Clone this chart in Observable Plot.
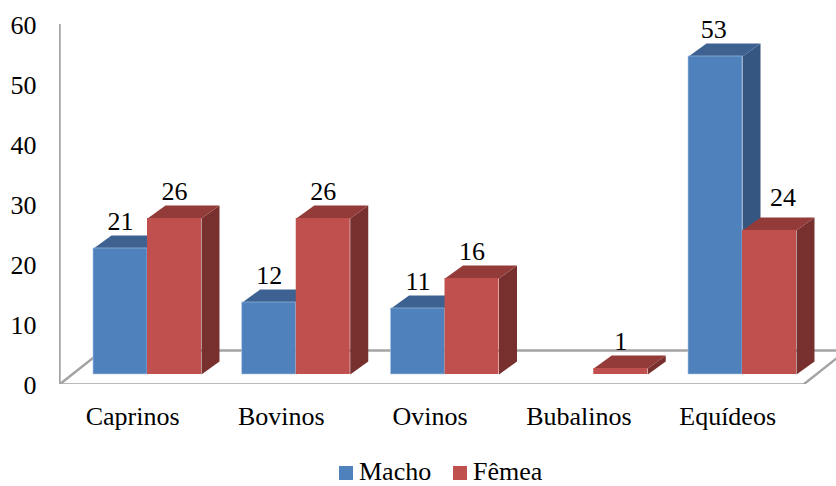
<!DOCTYPE html>
<html lang="pt">
<head>
<meta charset="utf-8">
<script src="https://cdn.jsdelivr.net/npm/d3@7"></script>
<script src="https://cdn.jsdelivr.net/npm/@observablehq/plot@0.6"></script>
<style>
  html, body { margin: 0; padding: 0; background: #fff; overflow: hidden; }
  #legend {
    position: relative; height: 31px; width: 836px;
    font: 26px "Liberation Serif", serif; color: #000;
  }
  #legend span.key { position: absolute; width: 14px; height: 14px; top: 11px; }
  #legend span.name { position: absolute; top: 7px; height: 20px; line-height: 20px; display: block; }
</style>
</head>
<body>
<div id="chart"></div>
<div id="legend"></div>
<script>
// Animal counts by category and sex
const categories = ["Caprinos", "Bovinos", "Ovinos", "Bubalinos", "Equídeos"];
const macho = [21, 12, 11, null, 53];
const femea = [26, 26, 16, 1, 24];
// Label nudges: the 24 moves up and right, clear of the taller neighbouring bar
const machoLabelLift = [0, 0, 0, 0, 0];
const femeaLabelLift = [0, 0, 0, 0, 1];
const machoLabelShift = [0, 0, 0, 0, -0.012];
const femeaLabelShift = [0, 0, 0, 0, 0.09];
const yTicks = [0, 10, 20, 30, 40, 50, 60];

const palette = {
  macho: {front: "#4f81bd", top: "#3d6291", side: "#345680", edge: "#a9c3e2"},
  femea: {front: "#c0504d", top: "#933b39", side: "#78302e", edge: "none"}
};

// Oblique projection, in scale units: one slot on x, one count on y
const barWidth = 0.363;      // width of a single bar
const depthX = 0.121;        // sideways shift of a bar's back face
const depthY = 2.17;         // upward shift of a bar's back face
const barBase = 1.67;        // bars stand this far above the floor's front edge
const floorBack = 5.67;      // height of the floor's back edge
const floorLeft = -0.5916;   // the wall, on x
const floorRight = 4.41;     // front right corner of the floor
const floorShiftX = 0.289;   // sideways run of the floor's depth
const labelOffset = -0.1;    // category labels sit at the centre of each floor slot

// Side and top faces of a series' bars, as polygons
function faces(values, series) {
  const out = [];
  values.forEach((v, i) => {
    if (v == null) return;
    const x1 = series === "macho" ? i - barWidth : i;
    const x2 = x1 + barWidth;
    const y1 = barBase, y2 = barBase + v;
    const c = palette[series];
    [[x2, y1], [x2 + depthX, y1 + depthY], [x2 + depthX, y2 + depthY], [x2, y2]]
      .forEach(([x, y]) => out.push({id: `${series}-${i}-side`, x, y, fill: c.side}));
    [[x1, y2], [x2, y2], [x2 + depthX, y2 + depthY], [x1 + depthX, y2 + depthY]]
      .forEach(([x, y]) => out.push({id: `${series}-${i}-top`, x, y, fill: c.top}));
  });
  return out;
}

// Front faces of a series' bars
function fronts(values, series) {
  return values.flatMap((v, i) => {
    if (v == null) return [];
    const x1 = series === "macho" ? i - barWidth : i;
    return [{i, x1, x2: x1 + barWidth, y1: barBase, y2: barBase + v, value: v}];
  });
}

// Outline of the chart's wall and floor
const frameLines = [
  {id: "wall", x: floorLeft, y: 60},
  {id: "wall", x: floorLeft, y: 0},
  {id: "wall", x: floorRight, y: 0},
  {id: "wall", x: floorRight + floorShiftX, y: floorBack},
  {id: "back", x: floorLeft + floorShiftX, y: floorBack},
  {id: "back", x: floorRight + floorShiftX, y: floorBack},
  {id: "inner", x: floorLeft, y: 0},
  {id: "inner", x: floorLeft + floorShiftX, y: floorBack}
];

const barMarks = (values, series) => [
  Plot.line(faces(values, series), {x: "x", y: "y", z: "id", fill: "fill", stroke: null}),
  Plot.rect(fronts(values, series), {
    x1: "x1", x2: "x2", y1: "y1", y2: "y2",
    fill: palette[series].front, stroke: palette[series].edge, strokeWidth: 0.6
  })
];

const labelMark = (values, series, lifts, shifts) => Plot.text(fronts(values, series), {
  x: d => (d.x1 + d.x2) / 2 + shifts[d.i],
  y: d => d.y2 + lifts[d.i],
  text: "value",
  dy: -27,
  fontSize: 26,
  fill: "#000"
});

const plot = Plot.plot({
  width: 836,
  height: 455,
  marginLeft: 59,
  marginRight: 0,
  marginTop: 24,
  marginBottom: 71,
  style: {fontFamily: "'Liberation Serif', serif", background: "#fff", overflow: "hidden"},
  x: {domain: [floorLeft, 4.6319]},
  y: {domain: [0, 60]},
  marks: [
    Plot.axisY({
      ticks: yTicks, tickSize: 0, tickPadding: 23, label: null,
      fontSize: 26, fill: "#000", dy: 1
    }),
    Plot.axisX({
      ticks: categories.map((_, i) => i + labelOffset),
      tickFormat: (_, i) => categories[i],
      tickSize: 0, tickPadding: 22, label: null,
      fontSize: 26, fill: "#000"
    }),
    Plot.line(frameLines, {
      x: "x", y: "y", z: "id", stroke: "#a3a3a3", strokeWidth: 2.4,
      strokeLinejoin: "miter", clip: "frame"
    }),
    ...barMarks(macho, "macho"),
    ...barMarks(femea, "femea"),
    labelMark(macho, "macho", machoLabelLift, machoLabelShift),
    labelMark(femea, "femea", femeaLabelLift, femeaLabelShift)
  ]
});
document.getElementById("chart").append(plot);
plot.style.display = "block";

// Legend below the plot
const legend = document.getElementById("legend");
[["Macho", palette.macho.front, 339, 359], ["Fêmea", palette.femea.front, 453, 473]]
  .forEach(([name, color, keyX, nameX]) => {
    const key = document.createElement("span");
    key.className = "key";
    key.style.left = keyX + "px";
    key.style.background = color;
    const text = document.createElement("span");
    text.className = "name";
    text.style.left = nameX + "px";
    text.textContent = name;
    legend.append(key, text);
  });
</script>
</body>
</html>
